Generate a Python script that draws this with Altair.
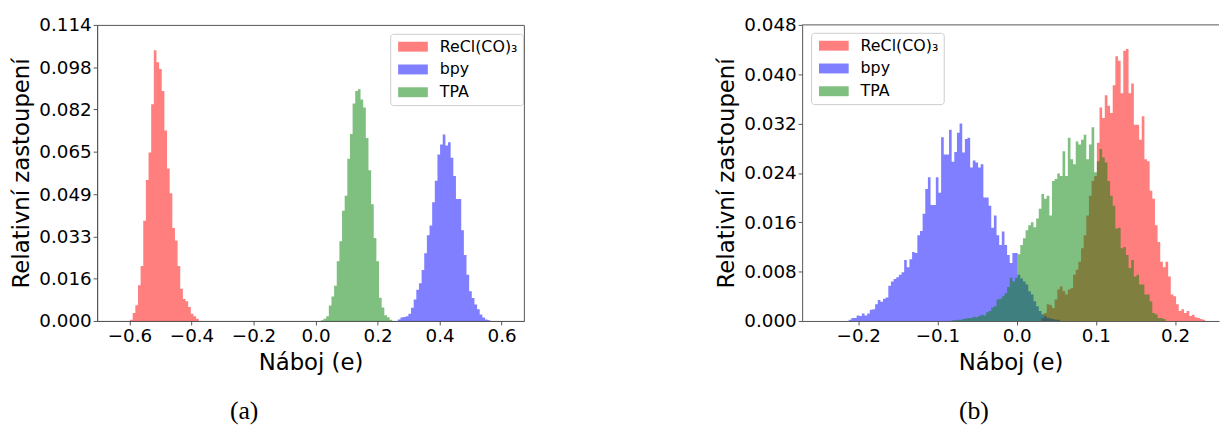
import altair as alt
import pandas as pd

# ---------------- data: panel (a) ----------------
a_bin_width = 0.00852
a_re_start = -0.5983
a_re = [0.0005, 0.0031, 0.0061, 0.0138, 0.0212, 0.0387, 0.0544, 0.0650, 0.0837, 0.1045,
        0.0999, 0.0973, 0.0888, 0.0735, 0.0589, 0.0493, 0.0359, 0.0311, 0.0212, 0.0124,
        0.0085, 0.0076, 0.0054, 0.0028, 0.0018, 0.0009]
a_bpy_start = 0.2654
a_bpy = [0.0006, 0.0013, 0.0015, 0.0018, 0.0028, 0.0051, 0.0083, 0.0121, 0.0146, 0.0197,
         0.0261, 0.0331, 0.0369, 0.0458, 0.0541, 0.0643, 0.0681, 0.0720, 0.0677, 0.0690,
         0.0630, 0.0560, 0.0471, 0.0471, 0.0350, 0.0255, 0.0178, 0.0115, 0.0089, 0.0064,
         0.0045, 0.0025, 0.0013, 0.0006, 0.0003]
a_tpa_start = 0.0173
a_tpa = [0.0003, 0.0009, 0.0018, 0.0060, 0.0094, 0.0136, 0.0231, 0.0308, 0.0426, 0.0483,
         0.0626, 0.0722, 0.0840, 0.0888, 0.0895, 0.0855, 0.0824, 0.0706, 0.0582, 0.0451,
         0.0320, 0.0231, 0.0090, 0.0052, 0.0022, 0.0014, 0.0005]

# ---------------- data: panel (b) ----------------
b_bin_width = 0.003333
b_re_start = -0.2121 + 73 * 0.003333
b_re = [0.0005, 0.0013, 0.0027, 0.0026, 0.0021, 0.0035, 0.0051, 0.0056, 0.0048, 0.0043,
        0.0051, 0.0053, 0.0075, 0.0083, 0.0096, 0.0118, 0.0139, 0.0171, 0.0203, 0.0227,
        0.0235, 0.0289, 0.0346, 0.0329, 0.0366, 0.0349, 0.0337, 0.0382, 0.0429, 0.0422,
        0.0369, 0.0438, 0.0441, 0.0369, 0.0385, 0.0318, 0.0318, 0.0294, 0.0332, 0.0262,
        0.0259, 0.0211, 0.0198, 0.0155, 0.0128, 0.0096, 0.0087, 0.0096, 0.0072, 0.0043,
        0.0040, 0.0027, 0.0016, 0.0019, 0.0013, 0.0016, 0.0008, 0.0010, 0.0006, 0.0005,
        0.0003, 0.0002]
b_bpy_start = -0.2121
b_bpy = [0.0002, 0.0005, 0.0005, 0.0009, 0.0008, 0.0012, 0.0009, 0.0012, 0.0018, 0.0019,
         0.0027, 0.0034, 0.0031, 0.0036, 0.0038, 0.0057, 0.0064, 0.0068, 0.0071, 0.0075,
         0.0079, 0.0099, 0.0087, 0.0100, 0.0112, 0.0110, 0.0139, 0.0146, 0.0174, 0.0214,
         0.0233, 0.0188, 0.0188, 0.0233, 0.0208, 0.0298, 0.0270, 0.0270, 0.0310, 0.0258,
         0.0274, 0.0305, 0.0320, 0.0273, 0.0295, 0.0297, 0.0249, 0.0260, 0.0257, 0.0249,
         0.0254, 0.0200, 0.0200, 0.0187, 0.0151, 0.0171, 0.0139, 0.0123, 0.0145, 0.0123,
         0.0107, 0.0094, 0.0110, 0.0110, 0.0075, 0.0069, 0.0064, 0.0059, 0.0048, 0.0043,
         0.0032, 0.0024, 0.0016, 0.0011, 0.0008, 0.0005, 0.0004, 0.0003, 0.0002, 0.0002]
b_tpa_start = -0.2121 + 39 * 0.003333
b_tpa = [0.0001, 0.0001, 0.0002, 0.0002, 0.0003, 0.0004, 0.0005, 0.0005, 0.0007, 0.0006,
         0.0008, 0.0010, 0.0009, 0.0014, 0.0016, 0.0022, 0.0024, 0.0035, 0.0036, 0.0040,
         0.0045, 0.0055, 0.0070, 0.0064, 0.0070, 0.0108, 0.0123, 0.0134, 0.0147, 0.0155,
         0.0160, 0.0152, 0.0166, 0.0182, 0.0206, 0.0198, 0.0203, 0.0171, 0.0227, 0.0230,
         0.0239, 0.0235, 0.0275, 0.0235, 0.0297, 0.0262, 0.0254, 0.0291, 0.0286, 0.0294,
         0.0302, 0.0262, 0.0286, 0.0314, 0.0241, 0.0259, 0.0279, 0.0265, 0.0257, 0.0227,
         0.0203, 0.0187, 0.0150, 0.0151, 0.0118, 0.0120, 0.0107, 0.0086, 0.0099, 0.0072,
         0.0075, 0.0059, 0.0059, 0.0043, 0.0043, 0.0032, 0.0013, 0.0011, 0.0005, 0.0005,
         0.0003]

series_names = ["ReCl(CO)\u2083", "bpy", "TPA"]
series_colors = ["#ff0000", "#0000ff", "#008000"]

a_xdomain = [-0.7045, 0.672]
a_ydomain = [0, 0.1143]
a_xticks = [-0.6, -0.4, -0.2, 0.0, 0.2, 0.4, 0.6]
a_yticks = [0.0, 0.01633, 0.03266, 0.04899, 0.06531, 0.08164, 0.09797, 0.1143]

b_xdomain = [-0.2709, 0.2554]
b_ydomain = [0, 0.048]
b_xticks = [-0.2, -0.1, 0.0, 0.1, 0.2]
b_yticks = [0.0, 0.008, 0.016, 0.024, 0.032, 0.040, 0.048]

FONT = "DejaVu Sans"
FRAME = "#555555"


def hist_df(start, width, heights, name):
    xs = [start + i * width for i in range(len(heights) + 1)]
    ys = list(heights) + [0.0]
    return pd.DataFrame({"charge": xs, "freq": ys, "series": name})


def panel(series, xdomain, ydomain, xticks, yticks, legend_x, legend_y):
    legend = alt.Legend(
        title=None, orient="none", legendX=legend_x, legendY=legend_y,
        symbolType="M-1,-1H5V1H-1Z", symbolSize=100, symbolOpacity=0.5,
        symbolStrokeWidth=0, labelFont=FONT, labelFontSize=16, labelColor="black",
        labelOffset=29, rowPadding=7, padding=5, fillColor="white",
        strokeColor="#cccccc", cornerRadius=3,
    )
    xenc = alt.X("charge:Q", scale=alt.Scale(domain=xdomain, nice=False, zero=False),
                 axis=alt.Axis(values=xticks, title="Náboj (e)",
                               labelExpr="replace(format(datum.value, '.1f'), '-', '\u2212')",
                               labelFlush=False, labelOverlap=False, titlePadding=7))
    yenc = alt.Y("freq:Q", scale=alt.Scale(domain=ydomain, nice=False),
                 axis=alt.Axis(values=yticks, format=".3f", title="Relativní zastoupení",
                               labelFlush=False, labelOverlap=False, titlePadding=5))
    cenc = alt.Color("series:N", scale=alt.Scale(domain=series_names, range=series_colors),
                     legend=legend)
    layers = []
    for df in series:
        layers.append(
            alt.Chart(df).mark_area(interpolate="step-after", opacity=0.5)
            .encode(x=xenc, y=yenc, color=cenc)
        )
    return layers


a_layers = panel(
    [hist_df(a_re_start, a_bin_width, a_re, series_names[0]),
     hist_df(a_bpy_start, a_bin_width, a_bpy, series_names[1]),
     hist_df(a_tpa_start, a_bin_width, a_tpa, series_names[2])],
    a_xdomain, a_ydomain, a_xticks, a_yticks, 296, 9)

b_layers = panel(
    [hist_df(b_re_start, b_bin_width, b_re, series_names[0]),
     hist_df(b_bpy_start, b_bin_width, b_bpy, series_names[1]),
     hist_df(b_tpa_start, b_bin_width, b_tpa, series_names[2])],
    b_xdomain, b_ydomain, b_xticks, b_yticks, 9, 8)

# top frame line of panel (b) (its right edge is cut off in the figure)
b_frame = alt.Chart(pd.DataFrame({"x": [b_xdomain[0]], "x2": [b_xdomain[1]], "y": [b_ydomain[1]]})).mark_rule(
    color=FRAME, strokeWidth=1).encode(
    x=alt.X("x:Q", scale=alt.Scale(domain=b_xdomain, nice=False, zero=False)),
    x2="x2:Q",
    y=alt.Y("y:Q", scale=alt.Scale(domain=b_ydomain, nice=False)),
)


def caption_title(text, dx):
    return alt.TitleParams(text=text, orient="bottom", anchor="middle", dx=dx, offset=23,
                           font="Liberation Serif", fontSize=26, fontWeight="normal", color="black")


chart_a = alt.layer(*a_layers).properties(width=431, height=299, title=caption_title("(a)", -67))
chart_b = alt.layer(*b_layers, b_frame).properties(
    width=421, height=299, title=caption_title("(b)", -37),
    view=alt.ViewBackground(stroke="transparent"))

chart = alt.hconcat(chart_a, chart_b, spacing=192).resolve_scale(
    color="independent", x="independent", y="independent"
).resolve_legend(color="independent").properties(
    padding={"left": 2, "top": 5, "right": 0, "bottom": 0}
).configure_axis(
    labelFont=FONT, labelFontSize=18.5, labelColor="black",
    titleFont=FONT, titleFontSize=23, titleFontWeight="normal", titleColor="black",
    domainColor=FRAME, tickColor=FRAME, tickSize=4, labelPadding=2, grid=False,
).configure_view(stroke=FRAME, strokeWidth=1)

chart.save("out.html", embed_options={"renderer": "svg", "actions": False})
